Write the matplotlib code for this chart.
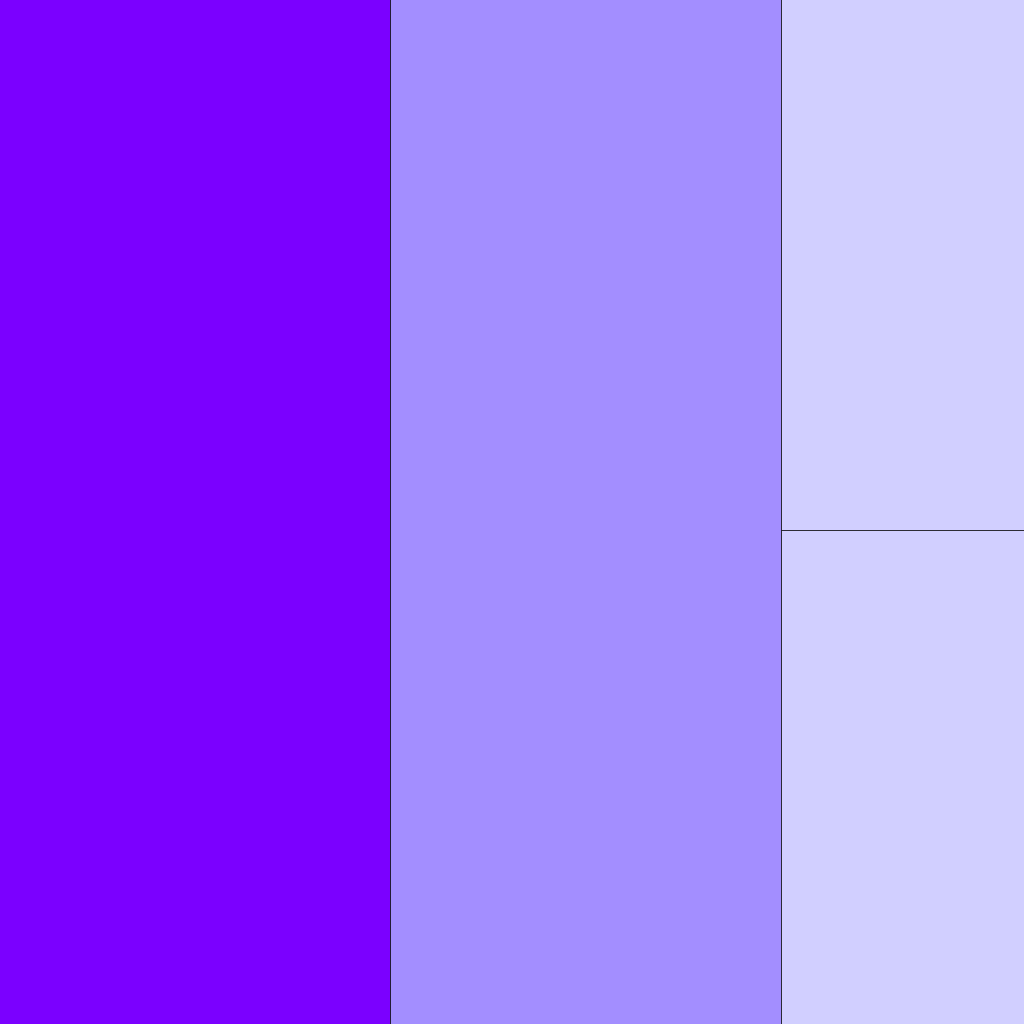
import matplotlib.pyplot as plt
from matplotlib.patches import Rectangle

# treemap data
labels = ['A', 'B', 'C', 'D']
values = [100, 99.7, 32.3, 30.1]
colors = ['#7B00FF', '#A38EFF', '#D1CFFF', '#D1CFFF']

# first two items take full-height columns, the rest share the last column
total = sum(values)
W, H = 1.0, 1.0
rects = []
x = 0.0
for v in values[:2]:
    w = v / total * W
    rects.append((x, 0.0, w, H))
    x += w
rest = values[2:]
w = W - x
y = H
for v in rest:
    h = v / sum(rest) * H
    y -= h
    rects.append((x, y, w, h))

fig = plt.figure(figsize=(10.24, 10.24), dpi=100)
ax = fig.add_axes([0, 0, 1, 1])
for (rx, ry, rw, rh), c in zip(rects, colors):
    ax.add_patch(Rectangle((rx, ry), rw, rh, facecolor=c,
                           edgecolor=(0, 0, 0, 0.7), linewidth=0.7))
# hide the outer border of the tiles
pad = 0.0012
ax.set_xlim(pad, W - pad)
ax.set_ylim(pad, H - pad)
ax.axis('off')

fig.savefig('out.png', dpi=100)
